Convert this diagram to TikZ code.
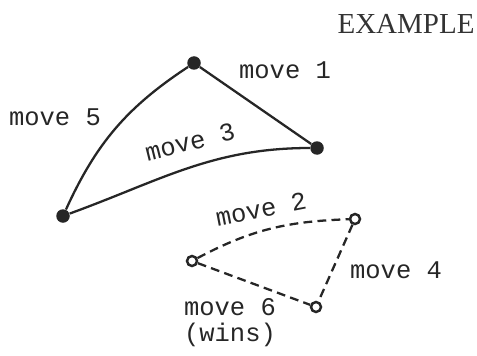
\documentclass[tikz,border=0pt]{standalone}
\usepackage{fontspec}
\setmainfont{Liberation Serif}
\newfontfamily\movemono{Liberation Mono}
\usetikzlibrary{positioning}

\begin{document}
\begin{tikzpicture}[
    dot/.style={circle, fill=black!85, inner sep=0pt, minimum size=0.27cm},
    hole/.style={circle, draw=black!85, line width=1.4pt, fill=white, inner sep=0pt, minimum size=0.2cm},
    solidmove/.style={line width=1.3pt, black!85},
    dashmove/.style={line width=1.3pt, black!85, dash pattern=on 5pt off 3pt},
    lbl/.style={font=\movemono\fontsize{14.5}{14.7}\selectfont, text=black!85, inner sep=0pt}
]
\useasboundingbox (0,0) rectangle (9.54,7.10);

% === Titulo ===
\node[font=\fontsize{16.5}{18}\selectfont, text=black!80, inner sep=0pt] (title) at (8.12, 6.62) {EXAMPLE};

% === Jugador 1 (puntos llenos) ===
\node[dot] (T) at (3.88, 5.84) {};
\node[dot] (R) at (6.34, 4.14) {};
\node[dot] (L) at (1.26, 2.78) {};

% === Jugador 2 (puntos huecos) ===
\node[hole] (A) at (7.10, 2.72) {};
\node[hole] (B) at (3.84, 1.88) {};
\node[hole] (C) at (6.32, 0.96) {};

% === Lineas ===
\draw[solidmove] (T) -- (R);
\draw[solidmove] (T) to[bend right=16] (L);
\draw[solidmove] (L) to[out=20, in=180] (R);
\draw[dashmove] (B) to[out=28, in=182] (A);
\draw[dashmove] (A) -- (C);
\draw[dashmove] (B) -- (C);

% === Etiquetas ===
\node[lbl] (m1) at (5.70, 5.70) {move 1};
\node[lbl] (m5) at (1.10, 4.76) {move 5};
\node[lbl, rotate=14] (m3) at (3.80, 4.26) {move 3};
\node[lbl, rotate=11] (m2) at (5.22, 2.92) {move 2};
\node[lbl] (m4) at (7.92, 1.70) {move 4};
\node[lbl, align=left] (m6) at (4.60, 0.64) {move 6\\(wins)};

\end{tikzpicture}
\end{document}
